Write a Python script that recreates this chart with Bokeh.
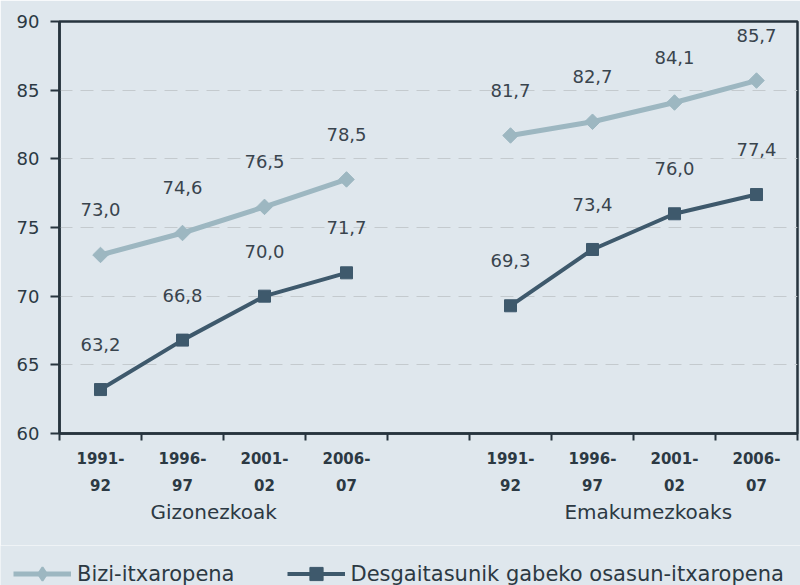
import numpy as np
from bokeh.plotting import figure
from bokeh.layouts import column, row
from bokeh.models import (FixedTicker, Range1d, Legend, LegendItem, LinearAxis, ColumnDataSource)
from bokeh.core.properties import value
from bokeh.embed import file_html
from bokeh.resources import INLINE

# ---- data ----
periods = ["1991-92", "1996-97", "2001-02", "2006-07"]
period_labels = ["1991-\n92", "1996-\n97", "2001-\n02", "2006-\n07"]
groups = ["Gizonezkoak", "Emakumezkoaks"]
bizi_men = [73.0, 74.6, 76.5, 78.5]
bizi_women = [81.7, 82.7, 84.1, 85.7]
desg_men = [63.2, 66.8, 70.0, 71.7]
desg_women = [69.3, 73.4, 76.0, 77.4]
series_names = ["Bizi-itxaropena", "Desgaitasunik gabeko osasun-itxaropena"]
y_ticks = [60, 65, 70, 75, 80, 85, 90]

# ---- styles ----
BG = "#dfe7ed"
LIGHT = "#9db7c1"
DARK = "#3e596c"
AXIS = "#27343e"
TEXT = "#2c3943"
FONT = "DejaVu Sans"

n = len(periods)
slots = 2 * n + 1  # gap slot between the two groups
men_x = [i + 0.5 for i in range(n)]
women_x = [n + 1 + i + 0.5 for i in range(n)]
group_x = [1.88, 7.18]  # label anchor positions under each group

p = figure(width=800, height=545, output_backend="svg", toolbar_location=None,
           x_range=Range1d(0, slots), y_range=Range1d(60, 90),
           min_border_left=59, min_border_right=3, min_border_top=21, min_border_bottom=112)
p.background_fill_color = BG
p.border_fill_color = BG
p.outline_line_color = AXIS
p.outline_line_width = 2.5

# y axis
p.yaxis.ticker = FixedTicker(ticks=y_ticks)
p.yaxis.axis_line_color = AXIS
p.yaxis.axis_line_width = 2.5
p.yaxis.major_tick_line_color = AXIS
p.yaxis.major_tick_line_width = 2
p.yaxis.major_tick_out = 9
p.yaxis.major_tick_in = 0
p.yaxis.minor_tick_line_color = None
p.yaxis.major_label_standoff = 11
p.yaxis.major_label_text_font = FONT
p.yaxis.major_label_text_font_size = "18px"
p.yaxis.major_label_text_color = TEXT

# x axis: labels at slot centers, ticks at slot edges (minor)
tick_pos = men_x + women_x
p.xaxis.ticker = FixedTicker(ticks=tick_pos, minor_ticks=list(range(slots + 1)))
p.xaxis.major_label_overrides = {float(x): lab for x, lab in zip(tick_pos, period_labels * 2)}
p.xaxis.axis_line_color = AXIS
p.xaxis.axis_line_width = 2.5
p.xaxis.major_tick_out = 0
p.xaxis.major_tick_in = 0
p.xaxis.minor_tick_line_color = AXIS
p.xaxis.minor_tick_line_width = 2
p.xaxis.minor_tick_out = 7
p.xaxis.minor_tick_in = 0
p.xaxis.major_label_standoff = 9
p.xaxis.major_label_text_font = FONT
p.xaxis.major_label_text_font_style = "bold"
p.xaxis.major_label_text_font_size = "15px"
p.xaxis.major_label_text_color = TEXT
p.xaxis.major_label_text_line_height = 1.5

# second axis carrying the group names
gax = LinearAxis(ticker=FixedTicker(ticks=group_x, minor_ticks=[]),
                 major_label_overrides={float(x): g for x, g in zip(group_x, groups)})
gax.axis_line_color = None
gax.major_tick_line_color = None
gax.minor_tick_line_color = None
gax.major_tick_out = 0
gax.major_tick_in = 0
gax.major_label_standoff = 2
gax.major_label_text_font = FONT
gax.major_label_text_font_size = "20px"
gax.major_label_text_color = TEXT
p.add_layout(gax, "below")

p.xgrid.grid_line_color = None
p.ygrid.ticker = FixedTicker(ticks=y_ticks[1:-1])
p.ygrid.grid_line_color = "#c4cace"
p.ygrid.grid_line_width = 1.2
p.ygrid.grid_line_dash = "13 8"

def fmt(v):
    return f"{v:.1f}".replace(".", ",")

sources = {}
for xs, vals, k in [(men_x, bizi_men, 0), (women_x, bizi_women, 0),
                    (men_x, desg_men, 1), (women_x, desg_women, 1)]:
    src = ColumnDataSource(dict(x=xs, y=vals, lab=[fmt(v) for v in vals]))
    sources.setdefault(k, dict(x=list(xs), y=list(vals)))
    if k == 0:
        p.line("x", "y", source=src, line_color=LIGHT, line_width=5)
        p.scatter("x", "y", source=src, marker="square", angle=np.pi / 4, size=11,
                  fill_color=LIGHT, line_color=LIGHT)
    else:
        p.line("x", "y", source=src, line_color=DARK, line_width=4)
        p.scatter("x", "y", source=src, marker="square", size=12,
                  fill_color=DARK, line_color=DARK)
    p.text("x", "y", text="lab", source=src, y_offset=-45, text_align="center",
           text_baseline="middle", text_font=value(FONT), text_font_size="18px",
           text_color="#39444d")

# ---- legend strip (separate figure below the chart) ----
# its renderers carry the same series, but lie outside this strip's ranges
lg = figure(width=800, height=40, output_backend="svg", toolbar_location=None,
            x_axis_type=None, y_axis_type=None,
            min_border=0, min_border_left=0, min_border_right=0,
            min_border_top=0, min_border_bottom=0,
            x_range=Range1d(0, 1), y_range=Range1d(0, 1))
lg.background_fill_color = BG
lg.border_fill_color = BG
lg.outline_line_color = None
lg.grid.grid_line_color = None
s_light = ColumnDataSource(sources[0])
s_dark = ColumnDataSource(sources[1])
l1 = lg.line("x", "y", source=s_light, line_color=LIGHT, line_width=5)
m1 = lg.scatter("x", "y", source=s_light, marker="diamond",
                size=11, fill_color=LIGHT, line_color=LIGHT, line_width=2)
l2 = lg.line("x", "y", source=s_dark, line_color=DARK, line_width=4)
m2 = lg.scatter("x", "y", source=s_dark, marker="square", size=12,
                fill_color=DARK, line_color=DARK)
legend = Legend(items=[LegendItem(label=series_names[0], renderers=[l1, m1]),
                       LegendItem(label=series_names[1], renderers=[l2, m2])],
                orientation="horizontal", location=(13, -5),
                glyph_width=58, glyph_height=33, label_standoff=6, spacing=52,
                padding=0, margin=0, background_fill_alpha=0, border_line_color=None,
                label_text_font=FONT, label_text_font_size="21px", label_text_color=TEXT)
lg.add_layout(legend, "center")

layout = column(p, row(lg), spacing=0)
html = file_html(layout, INLINE, title="chart")
html = html.replace("<body>", '<body style="background-color:#dfe7ed;margin:0">', 1)
open("out.html", "w").write(html)
